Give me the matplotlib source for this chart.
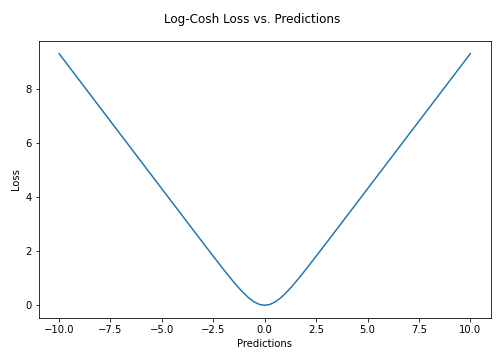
import matplotlib
matplotlib.use('Agg')
import matplotlib.pyplot as plt

# loss values
predictions = [-10.0, -9.0, -8.0, -7.0, -6.0, -5.0, -4.0, -3.5, -3.0, -2.5, -2.0,
               -1.75, -1.5, -1.25, -1.0, -0.75, -0.5, -0.25, 0.0,
               0.25, 0.5, 0.75, 1.0, 1.25, 1.5, 1.75, 2.0, 2.5, 3.0, 3.5,
               4.0, 5.0, 6.0, 7.0, 8.0, 9.0, 10.0]
loss = [9.307, 8.307, 7.307, 6.307, 5.307, 4.307, 3.308, 2.808, 2.309, 1.814, 1.325,
        1.087, 0.855, 0.636, 0.434, 0.258, 0.120, 0.031, 0.0,
        0.031, 0.120, 0.258, 0.434, 0.636, 0.855, 1.087, 1.325, 1.814, 2.309, 2.808,
        3.308, 4.307, 5.307, 6.307, 7.307, 8.307, 9.307]

fig, ax = plt.subplots(figsize=(7, 5), dpi=72)
ax.plot(predictions, loss)
ax.set_xlabel('Predictions')
ax.set_ylabel('Loss')
fig.suptitle('Log-Cosh Loss vs. Predictions', y=0.965)
fig.subplots_adjust(left=0.0764, right=0.974, top=0.886, bottom=0.117)

plt.savefig('out.png')
